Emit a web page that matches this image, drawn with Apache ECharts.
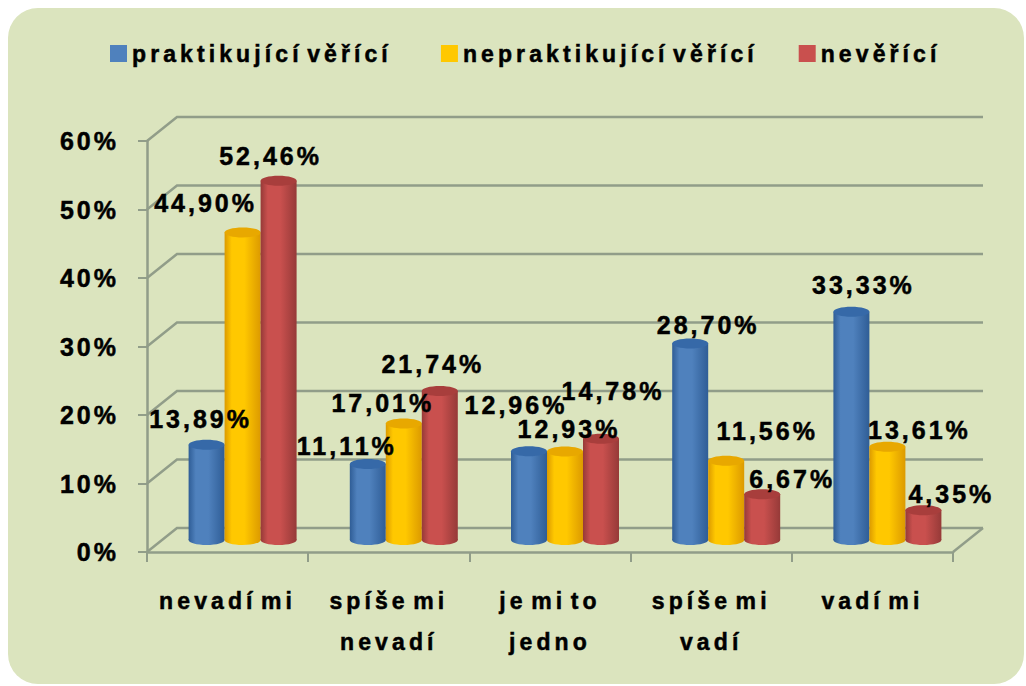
<!DOCTYPE html>
<html>
<head>
<meta charset="utf-8">
<title>graf</title>
<script src="https://cdn.jsdelivr.net/npm/echarts@6/dist/echarts.min.js"></script>
<style>
    html, body { margin: 0; padding: 0; background: #fff; }
    #chart { width: 1026px; height: 686px; }
    #chart text { letter-spacing: 3px; stroke: #000; stroke-width: 0.5px; }
    #chart text[style*="23px"] { letter-spacing: 4.1px; word-spacing: -6px; }
</style>
</head>
<body>
<div id="chart"></div>
<script>
const categories = ["nevadí mi", "spíše mi\nnevadí", "je mi to\njedno", "spíše mi\nvadí", "vadí mi"];
const praktikujici = [13.89, 11.11, 12.96, 28.70, 33.33];
const nepraktikujici = [44.90, 17.01, 12.93, 11.56, 13.61];
const neverici = [52.46, 21.74, 14.78, 6.67, 4.35];
const yTicks = [0, 10, 20, 30, 40, 50, 60];

// depth of the fake 3d box, px
const depthX = 30, depthY = 24;
const barW = 36;

// label nudges, the labels in the original were dragged around by hand
const nudgePrakt = [[-6, -26], [-21, -18], [-13, -46], [18, -18], [12, -27]];
const nudgeNeprakt = [[-37, -29], [-21, -20], [4, -22], [41, -30], [32, -17]];
const nudgeNever = [[-8, -25], [-7, -27], [12, -48], [30, -15], [28, -16]];

const lineColor = "#919d89";
const font = "bold 25px 'Liberation Sans', Arial, sans-serif";

const chart = echarts.init(document.getElementById("chart"), null, { renderer: "svg" });

function wallItem(params, api) {
    const v = api.value(1);
    const cs = params.coordSys;
    const y = api.coord([0, v])[1];
    const x0 = cs.x, x1 = cs.x + cs.width;
    const style = { stroke: lineColor, lineWidth: 2.5, fill: null };
    const children = [{
        type: "polyline",
        shape: { points: [[x0, y], [x0 + depthX, y - depthY], [x1 + depthX, y - depthY]] },
        style: style
    }];
    if (v === 0) {
        children.push({
            type: "line",
            shape: { x1: x1, y1: y, x2: x1 + depthX, y2: y - depthY },
            style: style
        });
    }
    return { type: "group", children: children };
}

function cylinder(slot, colors) {
    return function (params, api) {
        const top = api.coord([api.value(0), api.value(1)]);
        const base = api.coord([api.value(0), 0]);
        const cx = top[0] + 15 + (slot - 1) * barW;
        const yTop = top[1] - 12;
        const yBase = base[1] - 12;
        const rx = barW / 2, ry = 5;
        const body = new echarts.graphic.LinearGradient(0, 0, 1, 0, [
            { offset: 0, color: colors.edge },
            { offset: 0.2, color: colors.main },
            { offset: 0.55, color: colors.main },
            { offset: 1, color: colors.edge }
        ]);
        return {
            type: "group",
            children: [
                { type: "ellipse", shape: { cx: cx, cy: yBase, rx: rx, ry: ry }, style: { fill: body } },
                { type: "rect", shape: { x: cx - rx, y: yTop, width: barW, height: yBase - yTop }, style: { fill: body } },
                { type: "ellipse", shape: { cx: cx, cy: yTop, rx: rx, ry: ry }, style: { fill: colors.top } }
            ]
        };
    };
}

function labelItem(nudge) {
    return function (params, api) {
        const i = api.value(0);
        const v = api.value(1);
        const p = api.coord([i, v]);
        const slot = nudge.slot;
        return {
            type: "text",
            style: {
                text: v.toFixed(2).replace(".", ",") + "%",
                x: p[0] + 15 + (slot - 1) * barW + nudge.at[i][0],
                y: p[1] - 12 + nudge.at[i][1],
                align: "center",
                verticalAlign: "middle",
                font: font,
                fill: "#000"
            }
        };
    };
}

const groups = [
    { name: "praktikující věřící", data: praktikujici, nudge: nudgePrakt, colors: { main: "#4f81bd", edge: "#2f5d96", top: "#3669a8" } },
    { name: "nepraktikující věřící", data: nepraktikujici, nudge: nudgeNeprakt, colors: { main: "#ffc800", edge: "#dc9a00", top: "#e8a800" } },
    { name: "nevěřící", data: neverici, nudge: nudgeNever, colors: { main: "#c9504e", edge: "#963a38", top: "#a83e3c" } }
];

const series = [{
    type: "custom",
    name: "steny",
    silent: true,
    z: 1,
    clip: false,
    renderItem: wallItem,
    encode: { x: 0, y: 1 },
    data: yTicks.map(v => [0, v])
}];

groups.forEach((g, slot) => {
    series.push({
        type: "custom",
        name: g.name,
        z: 3,
        clip: false,
        itemStyle: { color: g.colors.main },
        renderItem: cylinder(slot, g.colors),
        encode: { x: 0, y: 1 },
        data: g.data.map((v, i) => [i, v])
    });
});
groups.forEach((g, slot) => {
    series.push({
        type: "custom",
        name: g.name + " popisky",
        z: 5,
        clip: false,
        renderItem: labelItem({ slot: slot, at: g.nudge }),
        encode: { x: 0, y: 1 },
        data: g.data.map((v, i) => [i, v])
    });
});

chart.setOption({
    animation: false,
    graphic: [{
        type: "rect",
        z: -10,
        shape: { x: 8, y: 8, width: 1016, height: 676, r: 30 },
        style: { fill: "#dbe4be" }
    }],
    legend: {
        left: 105,
        top: 37,
        itemWidth: 17,
        itemHeight: 17,
        itemGap: 121,
        icon: "rect",
        selectedMode: false,
        data: groups.map(g => g.name),
        textStyle: { color: "#000", fontSize: 23, fontWeight: "bold", fontFamily: "Liberation Sans" }
    },
    grid: { left: 147, top: 141, width: 806, height: 411 },
    xAxis: {
        type: "category",
        data: categories,
        axisLine: { lineStyle: { color: lineColor, width: 2.5 } },
        axisTick: { show: true, length: 10, alignWithLabel: false, lineStyle: { color: lineColor, width: 2 } },
        axisLabel: {
            color: "#000",
            fontSize: 23,
            fontWeight: "bold",
            fontFamily: "Liberation Sans",
            lineHeight: 41,
            margin: 28
        }
    },
    yAxis: {
        type: "value",
        min: 0,
        max: 60,
        interval: 10,
        axisLine: { show: true, lineStyle: { color: lineColor, width: 2.5 } },
        axisTick: { show: true, length: 9, lineStyle: { color: lineColor, width: 2 } },
        splitLine: { show: false },
        axisLabel: {
            color: "#000",
            fontSize: 25,
            fontWeight: "bold",
            fontFamily: "Liberation Sans",
            margin: 28,
            formatter: "{value}%"
        }
    },
    series: series
});
</script>
</body>
</html>
